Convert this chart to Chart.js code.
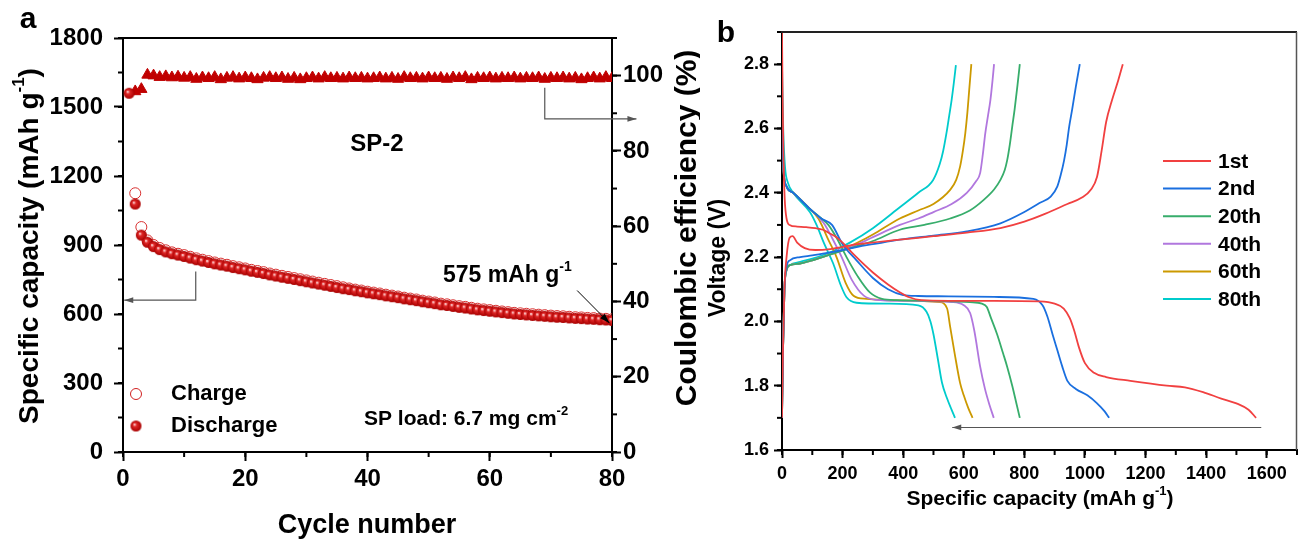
<!DOCTYPE html>
<html>
<head>
<meta charset="utf-8">
<script src="https://cdn.jsdelivr.net/npm/chart.js@4.4.1/dist/chart.umd.min.js"></script>
<style>
    html, body { margin: 0; padding: 0; background: #fff; }
    body { width: 1298px; height: 545px; position: relative; overflow: hidden; }
    #panelA { position: absolute; left: 0; top: 0; }
    #panelB { position: absolute; left: 700px; top: 0; }
</style>
</head>
<body>
<canvas id="panelA" width="700" height="545"></canvas>
<canvas id="panelB" width="598" height="545"></canvas>
<script>
// ---- panel a: cycling data (mAh g-1 and %) ----
const dischargeCapacity = [
    1560, 1078, 943, 912, 893, 880, 870, 862, 856, 850,
    843, 836, 830, 824, 818, 813, 808, 802, 797, 792,
    786, 781, 776, 770, 765, 760, 755, 750, 745, 740,
    735, 730, 725, 720, 715, 710, 706, 701, 697, 692,
    688, 684, 679, 675, 671, 666, 662, 658, 653, 649,
    645, 640, 637, 633, 629, 626, 622, 618, 615, 612,
    609, 606, 603, 600, 598, 596, 594, 592, 590, 588,
    586, 585, 583, 581, 580, 578, 577, 575, 574, 572
];
const chargeCapacity = [
    null, 1125, 978, 920, 900, 887, 877, 868, 862, 856,
    849, 842, 836, 830, 824, 819, 814, 808, 803, 798,
    792, 787, 782, 776, 771, 766, 761, 756, 751, 746,
    741, 736, 731, 726, 721, 716, 711, 706, 702, 697,
    693, 689, 684, 680, 676, 671, 667, 663, 658, 654,
    650, 645, 642, 638, 634, 631, 627, 623, 620, 617,
    614, 611, 608, 605, 603, 601, 599, 597, 595, 593,
    591, 590, 588, 586, 585, 583, 582, 580, 579, 577
];
const coulombicEfficiency = [
    null, 95.8, 96.4, 100.2, 100.0, 99.6, 99.8, 99.5, 99.7, 99.4,
    99.6, 99.1, 99.5, 99.3, 99.6, 99.0, 99.4, 99.6, 99.2, 99.5,
    99.3, 99.0, 99.4, 99.6, 99.3, 99.5, 99.1, 99.4, 99.0, 99.3,
    99.5, 99.2, 99.6, 99.3, 99.4, 99.2, 99.5, 99.3, 99.4, 99.2,
    99.3, 99.5, 99.2, 99.4, 99.1, 99.6, 99.3, 99.4, 99.2, 99.5,
    99.3, 99.4, 99.1, 99.5, 99.3, 99.6, 99.0, 99.4, 99.3, 99.5,
    99.2, 99.4, 99.3, 99.5, 99.2, 99.4, 99.3, 99.5, 99.1, 99.4,
    99.3, 99.5, 99.2, 99.4, 99.0, 99.3, 99.5, 99.2, 99.6, 99.3
];
const cycleNumber = dischargeCapacity.map((_, i) => i + 1);

// ---- panel b: voltage profiles (capacity in mAh g-1, voltage in V) ----
const cycleLabels = ['1st', '2nd', '20th', '40th', '60th', '80th'];
const cycleColors = ['#F14040', '#1A6FDF', '#37AD6B', '#B177DE', '#CC9900', '#00CBCC'];

const dis1stCap = [0, 2, 5, 9, 15, 25, 50, 80, 110, 135, 155, 175, 200, 240, 300, 350, 390, 420, 460, 550, 700, 850, 900, 930, 950, 965, 980, 1000, 1030, 1070, 1150, 1270, 1330, 1390, 1450, 1500, 1540, 1565];
const dis1stV   = [2.90, 2.70, 2.50, 2.38, 2.32, 2.30, 2.295, 2.293, 2.29, 2.285, 2.275, 2.265, 2.245, 2.205, 2.152, 2.115, 2.09, 2.075, 2.066, 2.064, 2.064, 2.062, 2.055, 2.04, 2.01, 1.97, 1.92, 1.87, 1.84, 1.827, 1.815, 1.80, 1.795, 1.78, 1.76, 1.745, 1.725, 1.70];
const chg1stCap = [0, 3, 8, 15, 25, 35, 50, 75, 110, 160, 250, 389, 500, 610, 721, 800, 870, 942, 990, 1020, 1040, 1055, 1070, 1090, 1110, 1125];
const chg1stV   = [1.70, 1.90, 2.10, 2.20, 2.26, 2.265, 2.245, 2.228, 2.222, 2.225, 2.24, 2.254, 2.265, 2.276, 2.29, 2.31, 2.335, 2.365, 2.385, 2.41, 2.45, 2.53, 2.62, 2.69, 2.75, 2.80];

const dis2ndCap = [0, 5, 15, 37, 92, 130, 165, 200, 246, 300, 350, 400, 450, 550, 700, 830, 860, 876, 893, 909, 925, 942, 970, 1008, 1040, 1065, 1080];
const dis2ndV   = [2.60, 2.47, 2.42, 2.40, 2.35, 2.32, 2.30, 2.24, 2.19, 2.135, 2.10, 2.082, 2.079, 2.078, 2.076, 2.07, 2.05, 2.015, 1.96, 1.91, 1.86, 1.815, 1.79, 1.77, 1.745, 1.72, 1.70];
const chg2ndCap = [0, 3, 8, 15, 26, 60, 100, 150, 200, 250, 300, 389, 500, 610, 721, 800, 850, 887, 909, 920, 931, 940, 948, 958, 970, 983];
const chg2ndV   = [1.70, 1.90, 2.10, 2.17, 2.19, 2.20, 2.205, 2.213, 2.222, 2.232, 2.24, 2.254, 2.267, 2.28, 2.305, 2.34, 2.368, 2.388, 2.42, 2.455, 2.50, 2.55, 2.606, 2.66, 2.73, 2.80];

const dis20thCap = [0, 5, 15, 37, 92, 130, 153, 180, 213, 250, 290, 330, 380, 500, 620, 660, 676, 690, 710, 730, 743, 760, 775, 785];
const dis20thV   = [2.60, 2.47, 2.42, 2.40, 2.35, 2.32, 2.30, 2.26, 2.20, 2.14, 2.09, 2.07, 2.066, 2.064, 2.06, 2.055, 2.045, 2.01, 1.96, 1.90, 1.86, 1.80, 1.74, 1.70];
const chg20thCap = [0, 3, 8, 15, 26, 60, 100, 150, 200, 250, 300, 389, 470, 555, 620, 666, 700, 721, 735, 743, 752, 760, 768, 778, 785];
const chg20thV   = [1.70, 1.90, 2.10, 2.16, 2.175, 2.18, 2.19, 2.205, 2.22, 2.235, 2.25, 2.285, 2.30, 2.32, 2.345, 2.378, 2.41, 2.44, 2.47, 2.50, 2.55, 2.606, 2.66, 2.74, 2.80];

const dis40thCap = [0, 5, 15, 37, 92, 125, 142, 165, 197, 230, 270, 310, 400, 560, 600, 621, 635, 654, 670, 685, 699];
const dis40thV   = [2.60, 2.47, 2.42, 2.40, 2.35, 2.32, 2.30, 2.26, 2.20, 2.13, 2.08, 2.067, 2.064, 2.06, 2.05, 2.026, 1.97, 1.86, 1.79, 1.74, 1.70];
const chg40thCap = [0, 3, 8, 15, 26, 60, 100, 150, 200, 250, 300, 389, 450, 500, 560, 610, 640, 654, 663, 671, 680, 688, 695, 700];
const chg40thV   = [1.70, 1.90, 2.10, 2.16, 2.175, 2.18, 2.19, 2.205, 2.222, 2.24, 2.262, 2.30, 2.32, 2.34, 2.365, 2.40, 2.435, 2.461, 2.52, 2.585, 2.64, 2.689, 2.75, 2.80];

const dis60thCap = [0, 5, 15, 37, 92, 120, 131, 150, 180, 210, 236, 279, 400, 520, 545, 555, 570, 588, 600, 615, 629];
const dis60thV   = [2.60, 2.47, 2.42, 2.40, 2.35, 2.32, 2.30, 2.26, 2.20, 2.12, 2.08, 2.07, 2.065, 2.06, 2.04, 1.984, 1.90, 1.808, 1.77, 1.73, 1.70];
const chg60thCap = [0, 3, 8, 15, 26, 60, 100, 150, 200, 250, 300, 389, 450, 500, 555, 575, 588, 597, 605, 612, 618, 625];
const chg60thV   = [1.70, 1.90, 2.10, 2.16, 2.175, 2.18, 2.19, 2.205, 2.222, 2.245, 2.27, 2.32, 2.345, 2.365, 2.409, 2.44, 2.482, 2.53, 2.585, 2.65, 2.72, 2.80];

const dis80thCap = [0, 4, 10, 20, 37, 92, 114, 140, 169, 195, 213, 246, 350, 450, 477, 490, 500, 515, 528, 545, 560, 571];
const dis80thV   = [2.80, 2.60, 2.48, 2.43, 2.40, 2.34, 2.30, 2.24, 2.18, 2.11, 2.075, 2.058, 2.055, 2.05, 2.03, 2.0, 1.96, 1.88, 1.81, 1.76, 1.725, 1.70];
const chg80thCap = [0, 3, 8, 15, 26, 60, 100, 160, 224, 300, 389, 450, 499, 521, 532, 543, 552, 560, 567, 574];
const chg80thV   = [1.70, 1.90, 2.10, 2.16, 2.175, 2.185, 2.195, 2.215, 2.245, 2.29, 2.355, 2.40, 2.44, 2.49, 2.53, 2.586, 2.64, 2.689, 2.74, 2.797];

const profileCaps = [
    [dis1stCap, chg1stCap], [dis2ndCap, chg2ndCap], [dis20thCap, chg20thCap],
    [dis40thCap, chg40thCap], [dis60thCap, chg60thCap], [dis80thCap, chg80thCap]
];
const profileVolts = [
    [dis1stV, chg1stV], [dis2ndV, chg2ndV], [dis20thV, chg20thV],
    [dis40thV, chg40thV], [dis60thV, chg60thV], [dis80thV, chg80thV]
];

// ---- helpers ----
const FONT = "'Liberation Sans', Arial, sans-serif";
const RED = '#c00000';

function toPoints(xs, ys) {
    return xs.map((x, i) => ({x: x, y: ys[i]}));
}

// text with optional superscript parts: [['text'], ['-1', true]]
function richText(ctx, parts, x, y, size, opts) {
    opts = opts || {};
    const supSize = Math.round(size * 0.62);
    let total = 0;
    const widths = parts.map(p => {
        ctx.font = 'bold ' + (p[1] ? supSize : size) + 'px ' + FONT;
        const w = ctx.measureText(p[0]).width;
        total += w;
        return w;
    });
    ctx.save();
    ctx.translate(x, y);
    if (opts.rotate) ctx.rotate(opts.rotate);
    ctx.fillStyle = '#000';
    ctx.textAlign = 'left';
    ctx.textBaseline = 'middle';
    let cx = opts.align === 'left' ? 0 : -total / 2;
    parts.forEach((p, i) => {
        ctx.font = 'bold ' + (p[1] ? supSize : size) + 'px ' + FONT;
        ctx.fillText(p[0], cx, p[1] ? -size * 0.38 : 0);
        cx += widths[i];
    });
    ctx.restore();
}

function arrow(ctx, pts, color, lw, head) {
    ctx.save();
    ctx.strokeStyle = color;
    ctx.fillStyle = color;
    ctx.lineWidth = lw;
    ctx.beginPath();
    pts.forEach((p, i) => i ? ctx.lineTo(p[0], p[1]) : ctx.moveTo(p[0], p[1]));
    ctx.stroke();
    const a = pts[pts.length - 2], b = pts[pts.length - 1];
    const ang = Math.atan2(b[1] - a[1], b[0] - a[0]);
    ctx.translate(b[0], b[1]);
    ctx.rotate(ang);
    ctx.beginPath();
    ctx.moveTo(0, 0);
    ctx.lineTo(-head, -head * 0.32);
    ctx.lineTo(-head, head * 0.32);
    ctx.closePath();
    ctx.fill();
    ctx.restore();
}

function makeBall(r) {
    const c = document.createElement('canvas');
    const s = 2 * r + 2;
    c.width = s; c.height = s;
    const g = c.getContext('2d');
    const grd = g.createRadialGradient(s / 2 - r * 0.3, s / 2 - r * 0.3, r * 0.05, s / 2, s / 2, r);
    grd.addColorStop(0, '#ffe8e8');
    grd.addColorStop(0.3, '#e02828');
    grd.addColorStop(1, '#a80000');
    g.fillStyle = grd;
    g.beginPath();
    g.arc(s / 2, s / 2, r, 0, Math.PI * 2);
    g.fill();
    return c;
}
const ball = makeBall(5.5);

// short minor ticks, drawn with the scales' own positions
const minorTicks = {
    id: 'minorTicks',
    afterDraw(chart, args, opts) {
        const ctx = chart.ctx;
        ctx.save();
        ctx.strokeStyle = '#000';
        ctx.lineWidth = 2;
        Object.keys(opts.scales || {}).forEach(id => {
            const sc = chart.scales[id];
            const step = opts.scales[id];
            const n = Math.round((sc.max - sc.min) / step);
            for (let k = 0; k <= n; k++) {
                const p = sc.getPixelForValue(sc.min + k * step);
                ctx.beginPath();
                if (sc.position === 'left') { ctx.moveTo(sc.right, p); ctx.lineTo(sc.right - opts.len, p); }
                else if (sc.position === 'right') { ctx.moveTo(sc.left, p); ctx.lineTo(sc.left + opts.len, p); }
                else { ctx.moveTo(p, sc.top); ctx.lineTo(p, sc.top + opts.len); }
                ctx.stroke();
            }
        });
        ctx.restore();
    }
};

function axisStyle(size, pad, tick, fmt) {
    return {
        ticks: {
            color: '#000', font: {family: FONT, size: size, weight: 'bold'},
            padding: pad, includeBounds: false,
            callback: fmt || (v => String(v))
        },
        grid: {drawOnChartArea: false, tickLength: tick, tickWidth: 2, tickColor: '#000'},
        border: {color: '#000', width: 2}
    };
}

// ---- panel a ----
const panelADecor = {
    id: 'panelADecor',
    afterDraw(chart) {
        const ctx = chart.ctx;
        const a = chart.chartArea;
        const x = chart.scales.x, y = chart.scales.y, y2 = chart.scales.y2;
        ctx.save();
        ctx.strokeStyle = '#000';
        ctx.lineWidth = 2;
        ctx.beginPath();
        ctx.moveTo(a.left - 1, a.top);
        ctx.lineTo(a.right + 1, a.top);
        ctx.stroke();
        ctx.restore();

        richText(ctx, [['a']], 28, 20, 30);
        richText(ctx, [['Specific capacity (mAh g'], ['-1', true], [')']], 30, 246, 28, {rotate: -Math.PI / 2});
        richText(ctx, [['Coulombic efficiency (%)']], 688, 228, 30, {rotate: -Math.PI / 2});
        richText(ctx, [['Cycle number']], 367, 526, 27);
        richText(ctx, [['SP-2']], 377, 144, 24);
        richText(ctx, [['575 mAh g'], ['-1', true]], 443, 276, 23, {align: 'left'});
        richText(ctx, [['SP load: 6.7 mg cm'], ['-2', true]], 364, 419, 21, {align: 'left'});

        // legend
        ctx.save();
        ctx.strokeStyle = '#d02020';
        ctx.lineWidth = 1;
        ctx.beginPath();
        ctx.arc(136, 394, 5.5, 0, Math.PI * 2);
        ctx.stroke();
        ctx.drawImage(ball, 136 - ball.width / 2, 426 - ball.height / 2);
        ctx.restore();
        richText(ctx, [['Charge']], 171, 394, 22, {align: 'left'});
        richText(ctx, [['Discharge']], 171, 426, 22, {align: 'left'});

        // arrows pointing to the axes
        arrow(ctx, [[x.getPixelForValue(11.9), y.getPixelForValue(785)],
                    [x.getPixelForValue(11.9), y.getPixelForValue(660)],
                    [x.getPixelForValue(0.2), y.getPixelForValue(660)]], '#555', 1.2, 9);
        arrow(ctx, [[x.getPixelForValue(69), y2.getPixelForValue(96.8)],
                    [x.getPixelForValue(69), y2.getPixelForValue(88.5)],
                    [x.getPixelForValue(84), y2.getPixelForValue(88.5)]], '#555', 1.2, 9);
        arrow(ctx, [[x.getPixelForValue(74.3), y.getPixelForValue(702)],
                    [x.getPixelForValue(79.6), y.getPixelForValue(560)]], '#000', 1, 10);
    }
};

const sA = {
    x: axisStyle(24, 4, 9),
    y: axisStyle(24, 11, 9),
    y2: axisStyle(24, 2, 9)
};

new Chart(document.getElementById('panelA'), {
    type: 'scatter',
    data: {
        datasets: [
            {
                label: 'Discharge',
                data: toPoints(cycleNumber, dischargeCapacity),
                yAxisID: 'y',
                pointStyle: ball,
                pointRadius: 5.5
            },
            {
                label: 'Charge',
                data: toPoints(cycleNumber, chargeCapacity),
                yAxisID: 'y',
                pointStyle: 'circle',
                pointRadius: 5.5,
                borderWidth: 1,
                borderColor: '#d83030',
                backgroundColor: 'rgba(255,255,255,0)'
            },
            {
                label: 'Coulombic efficiency',
                data: toPoints(cycleNumber, coulombicEfficiency),
                yAxisID: 'y2',
                pointStyle: 'triangle',
                pointRadius: 6.5,
                borderWidth: 1,
                borderColor: RED,
                backgroundColor: RED
            }
        ]
    },
    options: {
        responsive: false,
        animation: false,
        layout: {padding: {top: 38, left: 0, right: 0, bottom: 0}},
        plugins: {
            legend: {display: false},
            tooltip: {enabled: false},
            minorTicks: {len: 5, scales: {x: 10, y: 150, y2: 10}}
        },
        scales: {
            x: Object.assign({}, sA.x, {
                type: 'linear', position: 'bottom', min: 0, max: 80,
                ticks: Object.assign({}, sA.x.ticks, {stepSize: 20}),
                afterFit: s => { s.height = 93; }
            }),
            y: Object.assign({}, sA.y, {
                position: 'left', min: 0, max: 1800,
                ticks: Object.assign({}, sA.y.ticks, {stepSize: 300}),
                afterFit: s => { s.width = 123; }
            }),
            y2: Object.assign({}, sA.y2, {
                position: 'right', min: 0, max: 110,
                ticks: Object.assign({}, sA.y2.ticks, {stepSize: 20}),
                afterFit: s => { s.width = 88; }
            })
        }
    },
    plugins: [minorTicks, panelADecor]
});

// ---- panel b ----
const profileDatasets = [];
cycleLabels.forEach((lbl, i) => {
    ['discharge', 'charge'].forEach((kind, j) => {
        profileDatasets.push({
            label: lbl + ' ' + kind,
            data: toPoints(profileCaps[i][j], profileVolts[i][j]),
            showLine: true,
            pointRadius: 0,
            borderWidth: 1.8,
            borderColor: cycleColors[i],
            backgroundColor: cycleColors[i],
            cubicInterpolationMode: 'monotone'
        });
    });
});

const panelBDecor = {
    id: 'panelBDecor',
    afterDraw(chart) {
        const ctx = chart.ctx;
        const a = chart.chartArea;
        const x = chart.scales.x, y = chart.scales.y;
        ctx.save();
        ctx.strokeStyle = '#222';
        ctx.lineWidth = 2;
        ctx.beginPath();
        ctx.moveTo(a.left - 1, a.top);
        ctx.lineTo(a.right, a.top);
        ctx.stroke();
        ctx.strokeStyle = '#555';
        ctx.lineWidth = 1.5;
        ctx.beginPath();
        ctx.moveTo(a.right - 0.5, a.top);
        ctx.lineTo(a.right - 0.5, a.bottom);
        ctx.stroke();
        ctx.restore();

        richText(ctx, [['b']], 26, 34, 30);
        richText(ctx, [['Voltage (V)']], 19, 258, 23, {rotate: -Math.PI / 2});
        richText(ctx, [['Specific capacity (mAh g'], ['-1', true], [')']], 340, 499, 21);

        // legend
        cycleLabels.forEach((lbl, i) => {
            const ly = 161 + i * 27.6;
            ctx.save();
            ctx.strokeStyle = cycleColors[i];
            ctx.lineWidth = 2;
            ctx.beginPath();
            ctx.moveTo(463, ly);
            ctx.lineTo(511, ly);
            ctx.stroke();
            ctx.restore();
            richText(ctx, [[lbl]], 518, ly + 1, 21, {align: 'left'});
        });

        arrow(ctx, [[x.getPixelForValue(1582), y.getPixelForValue(1.67)],
                    [x.getPixelForValue(562), y.getPixelForValue(1.67)]], '#555', 1.2, 9);
    }
};

const sB = {
    x: axisStyle(18, 5, 8),
    y: axisStyle(18, 5, 8, v => v.toFixed(1))
};

new Chart(document.getElementById('panelB'), {
    type: 'scatter',
    data: {datasets: profileDatasets},
    options: {
        responsive: false,
        animation: false,
        layout: {padding: {top: 32, left: 0, right: 1, bottom: 0}},
        plugins: {
            legend: {display: false},
            tooltip: {enabled: false},
            minorTicks: {len: 5, scales: {x: 100, y: 0.1}}
        },
        scales: {
            x: Object.assign({}, sB.x, {
                type: 'linear', position: 'bottom', min: 0, max: 1700,
                ticks: Object.assign({}, sB.x.ticks, {stepSize: 200}),
                afterFit: s => { s.height = 95; }
            }),
            y: Object.assign({}, sB.y, {
                position: 'left', min: 1.6, max: 2.9,
                ticks: Object.assign({}, sB.y.ticks, {stepSize: 0.2}),
                afterFit: s => { s.width = 82; }
            })
        }
    },
    plugins: [minorTicks, panelBDecor]
});
</script>
</body>
</html>
